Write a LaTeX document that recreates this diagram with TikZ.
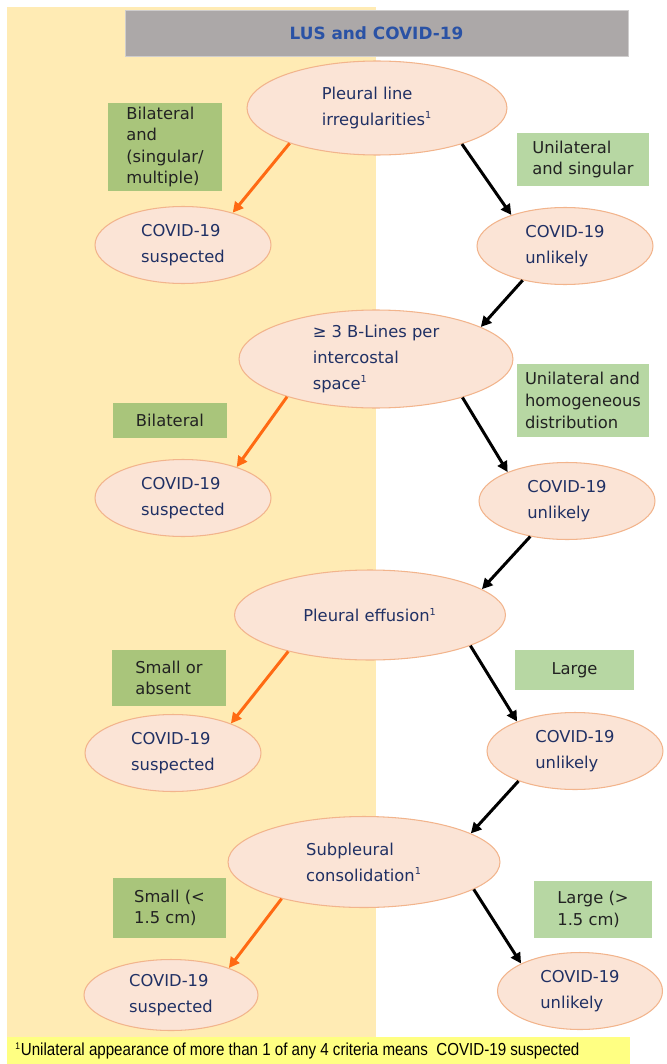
\documentclass[tikz,border=0pt]{standalone}
\usepackage{fontspec}
\setmainfont{DejaVu Sans}
\newfontfamily\notefont[FakeStretch=0.87]{Liberation Sans}
\usetikzlibrary{shapes.geometric,arrows.meta}
\definecolor{panel}{HTML}{FFEBB4}
\definecolor{notebar}{HTML}{FFFF82}
\definecolor{bargray}{HTML}{ACA8A8}
\definecolor{barline}{HTML}{CFCDCD}
\definecolor{titleblue}{HTML}{2A52A5}
\definecolor{ellfill}{HTML}{FBE4D6}
\definecolor{ellline}{HTML}{F2B48C}
\definecolor{navy}{HTML}{203064}
\definecolor{ink}{HTML}{222222}
\definecolor{olivebox}{HTML}{A9C57B}
\definecolor{sagebox}{HTML}{B7D7A3}
\definecolor{arrorange}{HTML}{FF6A13}
\newcommand{\fnmark}{\textsuperscript{\fontsize{5.5}{6}\selectfont 1}}

\begin{document}
\begin{tikzpicture}[x=0.02cm,y=-0.02cm,
  crit/.style={ellipse,draw=ellline,fill=ellfill,line width=0.6pt,inner sep=0pt,
    align=left,text=navy,font=\fontsize{9.3}{14.7}\selectfont},
  outc/.style={crit,minimum width=3.52cm,minimum height=1.54cm},
  darkbox/.style={fill=olivebox,inner sep=0pt,align=left,text=ink,
    font=\fontsize{9.3}{12.3}\selectfont},
  litebox/.style={darkbox,fill=sagebox},
  suspto/.style={-{Triangle[length=6pt,width=6pt]},line width=1.7pt,draw=arrorange},
  unlto/.style={suspto,draw=black}]
\useasboundingbox (0,0) rectangle (666,1064);
% background panel and footnote bar
\fill[panel] (7,7) rectangle (376,1037);
\fill[notebar] (7,1037) rectangle (630,1064);
\node[draw=barline,fill=bargray,minimum width=10.06cm,minimum height=0.92cm,
  text=titleblue,font=\fontsize{9.6}{12}\selectfont\bfseries] (title) at (376.5,33) {LUS and COVID-19};

% criteria
\node[crit,minimum width=5.2cm,minimum height=1.88cm] (pl) at (377,108) {Pleural line\\irregularities\fnmark};
\node[crit,minimum width=5.48cm,minimum height=1.96cm] (bl) at (376,359) {≥ 3 B-Lines per\\intercostal\\space\fnmark};
\node[crit,minimum width=5.42cm,minimum height=1.8cm] (pe) at (370,615) {Pleural effusion\fnmark};
\node[crit,minimum width=5.44cm,minimum height=1.82cm] (sc) at (364,862) {Subpleural\\consolidation\fnmark};

% outcomes
\node[outc] (s1) at (183,245) {COVID-19\\suspected};
\node[outc] (u1) at (565,246) {COVID-19\\unlikely};
\node[outc] (s2) at (183,498) {COVID-19\\suspected};
\node[outc] (u2) at (567,501) {COVID-19\\unlikely};
\node[outc] (s3) at (173,753) {COVID-19\\suspected};
\node[outc] (u3) at (575,751) {COVID-19\\unlikely};
\node[outc,minimum width=3.48cm,minimum height=1.42cm] (s4) at (171,995) {COVID-19\\suspected};
\node[outc,minimum width=3.3cm] (u4) at (580,991) {COVID-19\\unlikely};

% conditions
\node[darkbox,minimum width=2.28cm,minimum height=1.76cm] (c1l) at (165,147) {Bilateral\\and\\(singular/\\multiple)};
\node[litebox,minimum width=2.64cm,minimum height=1.06cm] (c1r) at (583,159.5) {Unilateral\\and singular};
\node[darkbox,minimum width=2.28cm,minimum height=0.7cm] (c2l) at (170,420.5) {Bilateral};
\node[litebox,minimum width=2.64cm,minimum height=1.46cm] (c2r) at (583,400.5) {Unilateral and\\homogeneous\\distribution};
\node[darkbox,minimum width=2.28cm,minimum height=1.12cm] (c3l) at (169,678) {Small or\\absent};
\node[litebox,minimum width=2.38cm,minimum height=0.8cm] (c3r) at (574.5,670) {Large};
\node[darkbox,minimum width=2.26cm,minimum height=1.2cm] (c4l) at (169.5,908) {Small (<\\1.5 cm)};
\node[litebox,minimum width=2.36cm,minimum height=1.14cm] (c4r) at (593,909.5) {Large (>\\1.5 cm)};

% arrows
\draw[suspto] (pl.202) -- (s1.33);
\draw[unlto] (pl.337) -- (u1.150);
\draw[unlto] (u1.219) -- (bl.17);
\draw[suspto] (bl.203) -- (s2.30);
\draw[unlto] (bl.336) -- (u2.154);
\draw[unlto] (u2.224) -- (pe.13);
\draw[suspto] (pe.204) -- (s3.27);
\draw[unlto] (pe.343) -- (u3.153);
\draw[unlto] (u3.208) -- (sc.15);
\draw[suspto] (sc.204) -- (s4.25);
\draw[unlto] (sc.346) -- (u4.155);

\node[anchor=west,inner sep=0pt,font=\notefont\fontsize{9.9}{12}\selectfont] (note) at (15,1051)
  {\fnmark Unilateral appearance of more than 1 of any 4 criteria means~ COVID-19 suspected};
\end{tikzpicture}
\end{document}
